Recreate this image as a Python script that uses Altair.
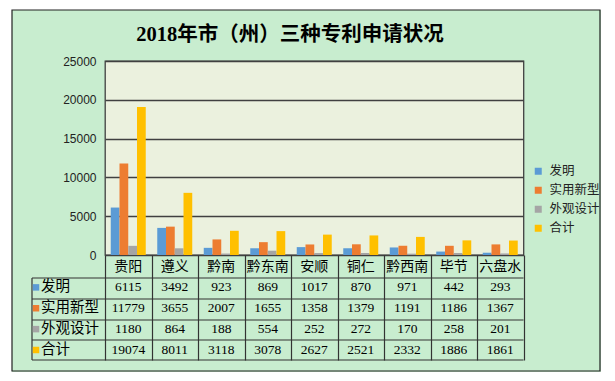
import altair as alt
import pandas as pd

TITLE = "2018年市（州）三种专利申请状况"
cats = ["贵阳", "遵义", "黔南", "黔东南", "安顺", "铜仁", "黔西南", "毕节", "六盘水"]
series = ["发明", "实用新型", "外观设计", "合计"]
invention = [6115, 3492, 923, 869, 1017, 870, 971, 442, 293]
utility = [11779, 3655, 2007, 1655, 1358, 1379, 1191, 1186, 1367]
design = [1180, 864, 188, 554, 252, 272, 170, 258, 201]
total = [19074, 8011, 3118, 3078, 2627, 2521, 2332, 1886, 1861]
colors = ["#5B9BD5", "#ED7D31", "#A5A5A5", "#FFC000"]

rows = []
for s, vals in zip(series, [invention, utility, design, total]):
    for c, v in zip(cats, vals):
        rows.append({"cat": c, "series": s, "value": v})
df = pd.DataFrame(rows)
hdr = pd.DataFrame({"cat": cats, "row": ["header"] * len(cats)})
lab = pd.DataFrame({"series": series})
one = pd.DataFrame({"t": [TITLE]})

W, H = 418.5, 194
LINE = "#333333"
CJK = "Noto Sans CJK SC"

xscale = alt.Scale(domain=cats, paddingInner=0, paddingOuter=0)
xaxis = alt.Axis(labels=False, domain=False, ticks=True, tickBand="extent",
                 tickSize=105, tickColor=LINE, tickWidth=1.2, grid=False, title=None)
X = alt.X("cat:N", sort=cats, scale=xscale, axis=xaxis, title=None)

rowscale = alt.Scale(type="point", domain=["header"] + series, range=[205.5, 289], padding=0)

color = alt.Color("series:N", sort=series,
                  scale=alt.Scale(domain=series, range=colors),
                  legend=alt.Legend(orient="none", legendX=427, legendY=104, title=None,
                                    symbolType="square", symbolSize=49, symbolStrokeWidth=0,
                                    labelFont=CJK, labelFontSize=12.5, labelColor="#222222",
                                    rowPadding=6, labelOffset=5))

base_val = alt.Chart(pd.DataFrame({"v": [0]}))

# white margins outside frame
white_l = base_val.mark_rect(color="white").encode(
    x=alt.value(-97), x2=alt.value(-93), y=alt.value(-53), y2=alt.value(311))
white_t = base_val.mark_rect(color="white").encode(
    x=alt.value(-97), x2=alt.value(496), y=alt.value(-53), y2=alt.value(-51))
frame = base_val.mark_rect(fillOpacity=0, stroke="#222222", strokeWidth=1.2).encode(
    x=alt.value(-93), x2=alt.value(495), y=alt.value(-51), y2=alt.value(310))

bars = alt.Chart(df).mark_bar().encode(
    x=X,
    xOffset=alt.XOffset("series:N", sort=series,
                        scale=alt.Scale(paddingInner=0, paddingOuter=0.657)),
    y=alt.Y("value:Q", scale=alt.Scale(domain=[0, 25000]),
            axis=alt.Axis(values=[0, 5000, 10000, 15000, 20000, 25000], ticks=False,
                          domain=False, grid=True, gridColor="#404040", gridWidth=1.3,
                          format="d",
                          labelFont="Liberation Sans", labelFontSize=12,
                          labelColor="#222222", labelPadding=9, title=None)),
    color=color,
)

rules = []
for yy in [217, 238, 259, 279, 299]:
    rules.append(base_val.mark_rule(color=LINE, strokeWidth=1.2).encode(
        x=alt.value(-73), x2=alt.value(W), y=alt.value(yy)))
rules.append(base_val.mark_rule(color=LINE, strokeWidth=1.2).encode(
    x=alt.value(-73), y=alt.value(217), y2=alt.value(299)))

header = alt.Chart(hdr).mark_text(font=CJK, fontSize=14, color="black", baseline="middle").encode(
    x=X, y=alt.Y("row:N", scale=rowscale, axis=None), text="cat:N")

nums = alt.Chart(df).mark_text(font="Liberation Serif", fontSize=13.5, color="black",
                               baseline="middle").encode(
    x=X, y=alt.Y("series:N", scale=rowscale, axis=None),
    text=alt.Text("value:Q", format="d"))

squares = alt.Chart(lab).mark_square(size=42, opacity=1).encode(
    x=alt.value(-69), y=alt.Y("series:N", scale=rowscale, axis=None), color=color)

labels = alt.Chart(lab).mark_text(font=CJK, fontSize=14.5, color="black", align="left",
                                  baseline="middle").encode(
    x=alt.value(-64), y=alt.Y("series:N", scale=rowscale, axis=None), text="series:N")

title = alt.Chart(one).mark_text(font="Liberation Serif, " + CJK, fontSize=20.5,
                                 fontWeight="bold", color="black", baseline="middle").encode(
    x=alt.value(185), y=alt.value(-26), text="t:N")

chart = alt.layer(white_l, white_t, bars, *rules, header, nums, squares, labels, title, frame
).resolve_scale(y="independent").properties(
    width=W, height=H,
    autosize=alt.AutoSizeParams(type="none"),
    padding={"left": 97, "top": 53, "right": 77.5, "bottom": 117},
    background="#C8EDCF",
).configure_view(fill="#EBF1DE", stroke="#404040", strokeWidth=1.3)

chart.save("out.html", embed_options={"renderer": "svg", "actions": False})
